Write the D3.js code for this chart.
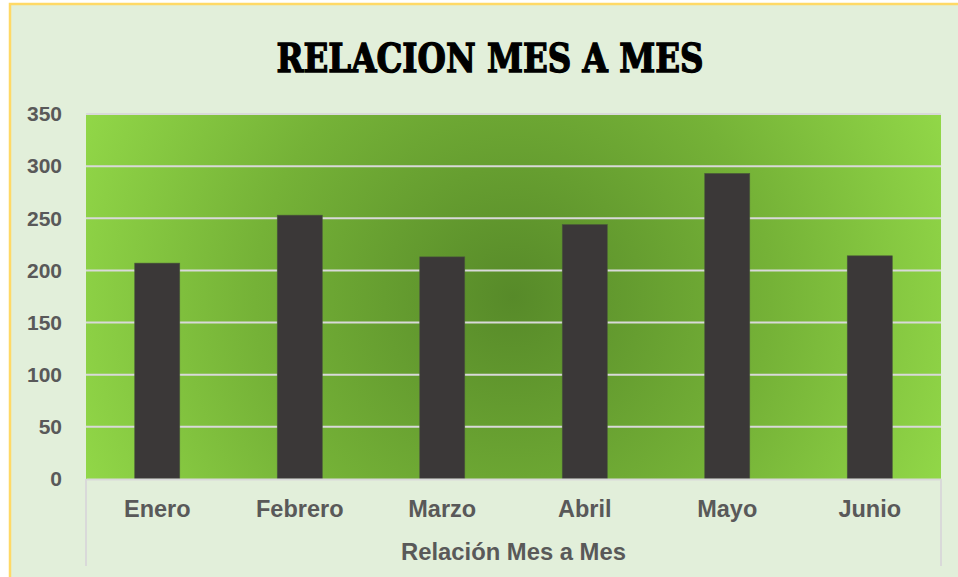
<!DOCTYPE html>
<html>
<head>
<meta charset="utf-8">
<script src="https://cdn.jsdelivr.net/npm/d3@7"></script>
<style>
  html, body { margin: 0; padding: 0; background: #ffffff; }
  svg { display: block; }
</style>
</head>
<body>
<div id="chart"></div>
<script>
const months = ["Enero", "Febrero", "Marzo", "Abril", "Mayo", "Junio"];
const values = [207, 253, 213, 244, 293, 214];
const yTicks = [0, 50, 100, 150, 200, 250, 300, 350];
const chartTitle = "RELACION MES A MES";
const axisTitle = "Relación Mes a Mes";

const W = 958, H = 577;
const plot = { left: 86, right: 941, top: 114, bottom: 479 };

const svg = d3.select("#chart").append("svg")
  .attr("width", W)
  .attr("height", H);

const defs = svg.append("defs");
const grad = defs.append("radialGradient")
  .attr("id", "plotGrad")
  .attr("gradientUnits", "userSpaceOnUse")
  .attr("cx", 513).attr("cy", 297)
  .attr("r", 470);
grad.append("stop").attr("offset", "0%").attr("stop-color", "#578a29");
grad.append("stop").attr("offset", "55%").attr("stop-color", "#75b237");
grad.append("stop").attr("offset", "100%").attr("stop-color", "#92d848");

// chart area background + yellow frame
svg.append("rect")
  .attr("x", 10).attr("y", 4)
  .attr("width", W + 10).attr("height", H + 10)
  .attr("fill", "#e2efda")
  .attr("stroke", "#ffd966")
  .attr("stroke-width", 2.5);

const x = d3.scaleBand()
  .domain(months)
  .range([plot.left, plot.right])
  .paddingInner(0.684)
  .paddingOuter(0.342);

const y = d3.scaleLinear()
  .domain([0, 350])
  .range([plot.bottom, plot.top]);

// plot area
svg.append("rect")
  .attr("x", plot.left).attr("y", plot.top)
  .attr("width", plot.right - plot.left)
  .attr("height", plot.bottom - plot.top)
  .attr("fill", "url(#plotGrad)");

// gridlines
svg.append("g")
  .selectAll("line")
  .data(yTicks.filter(d => d > 0))
  .join("line")
  .attr("x1", plot.left).attr("x2", plot.right)
  .attr("y1", d => y(d)).attr("y2", d => y(d))
  .attr("stroke", "#d9d9d9")
  .attr("stroke-width", 2);

// bars
svg.append("g")
  .selectAll("rect")
  .data(values)
  .join("rect")
  .attr("x", (d, i) => x(months[i]))
  .attr("y", d => y(d))
  .attr("width", x.bandwidth())
  .attr("height", d => y(0) - y(d))
  .attr("fill", "#3b3838")
  .attr("stroke", "#4a5a3a")
  .attr("stroke-width", 0.6);

// category axis
const xAxis = svg.append("g")
  .attr("transform", `translate(0,${plot.bottom})`)
  .call(d3.axisBottom(x).tickSize(0).tickPadding(21));
xAxis.select(".domain").attr("stroke", "#d9d9d9").attr("stroke-width", 2);
xAxis.selectAll("text")
  .attr("fill", "#595959")
  .style("font-family", "'Liberation Sans', Arial, sans-serif")
  .style("font-size", "23.5px")
  .style("font-weight", "bold");

// category frame lines
svg.append("g")
  .selectAll("line")
  .data([plot.left, plot.right])
  .join("line")
  .attr("x1", d => d).attr("x2", d => d)
  .attr("y1", plot.bottom).attr("y2", 566)
  .attr("stroke", "#d9d9d9")
  .attr("stroke-width", 2);

// value axis
const yAxis = svg.append("g")
  .attr("transform", `translate(${plot.left},0)`)
  .call(d3.axisLeft(y).tickValues(yTicks).tickSize(0).tickPadding(24));
yAxis.select(".domain").remove();
yAxis.selectAll("text")
  .attr("fill", "#595959")
  .style("font-family", "'Liberation Sans', Arial, sans-serif")
  .style("font-size", "21px")
  .style("font-weight", "bold");

// axis title
svg.append("text")
  .attr("x", (plot.left + plot.right) / 2)
  .attr("y", 560)
  .attr("text-anchor", "middle")
  .attr("fill", "#595959")
  .style("font-family", "'Liberation Sans', Arial, sans-serif")
  .style("font-size", "23.8px")
  .style("font-weight", "bold")
  .text(axisTitle);

// chart title (heavy decorative look approximated with a stroke)
svg.append("text")
  .attr("x", 490)
  .attr("y", 72)
  .attr("text-anchor", "middle")
  .attr("textLength", 427)
  .attr("lengthAdjust", "spacingAndGlyphs")
  .attr("fill", "#000000")
  .attr("stroke", "#000000")
  .attr("stroke-width", 1.4)
  .style("font-family", "'DejaVu Serif', serif")
  .style("font-size", "40px")
  .style("font-weight", "bold")
  .text(chartTitle);
</script>
</body>
</html>
